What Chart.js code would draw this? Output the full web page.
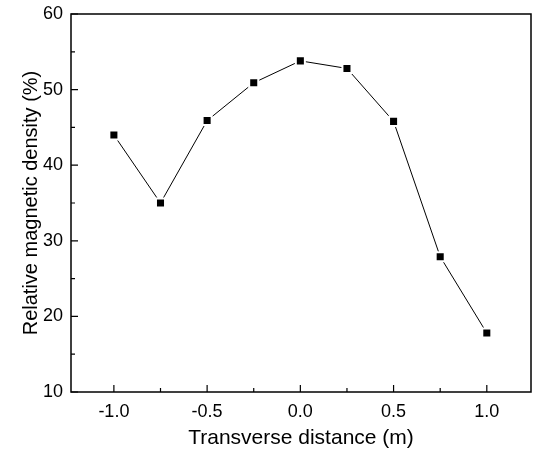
<!DOCTYPE html>
<html>
<head>
<meta charset="utf-8">
<script src="https://cdn.jsdelivr.net/npm/chart.js@4.4.1/dist/chart.umd.min.js"></script>
<style>
  html, body { margin: 0; padding: 0; background: #fff; }
  #wrap { width: 534px; height: 457px; }
</style>
</head>
<body>
<div id="wrap"><canvas id="chart" width="534" height="457"></canvas></div>
<script>
// data
const distance = [-1.0, -0.75, -0.5, -0.25, 0.0, 0.25, 0.5, 0.75, 1.0];
const density = [44, 35, 45.9, 50.9, 53.8, 52.8, 45.8, 27.9, 17.8];

const xTicks = [-1.0, -0.75, -0.5, -0.25, 0.0, 0.25, 0.5, 0.75, 1.0];
const xLabels = ['-1.0', '-0.5', '0.0', '0.5', '1.0'];
const yTicks = [10, 15, 20, 25, 30, 35, 40, 45, 50, 55, 60];
const yLabels = ['10', '20', '30', '40', '50', '60'];

const font = "'Liberation Sans', Arial, sans-serif";

const isMajorX = v => Math.abs(v * 2 - Math.round(v * 2)) < 1e-9;

// frame + inward ticks like the original plot
const frameTicks = {
  id: 'frameTicks',
  afterDraw(chart) {
    const { ctx, chartArea: a, scales } = chart;
    ctx.save();
    ctx.strokeStyle = '#000';
    ctx.lineWidth = 1.5;
    ctx.strokeRect(a.left, a.top, a.right - a.left, a.bottom - a.top);
    ctx.lineWidth = 1.2;
    ctx.beginPath();
    xTicks.forEach(v => {
      const x = scales.x.getPixelForValue(v);
      const len = isMajorX(v) ? 7 : 4;
      ctx.moveTo(x, a.bottom);
      ctx.lineTo(x, a.bottom - len);
    });
    yTicks.forEach(v => {
      const y = scales.y.getPixelForValue(v);
      const len = v % 10 === 0 ? 7 : 4;
      ctx.moveTo(a.left, y);
      ctx.lineTo(a.left + len, y);
    });
    ctx.stroke();
    ctx.restore();
  }
};

new Chart(document.getElementById('chart').getContext('2d'), {
  type: 'line',
  data: {
    datasets: [{
      data: distance.map((d, i) => ({ x: d, y: density[i] })),
      borderColor: '#000',
      borderWidth: 1,
      tension: 0,
      pointStyle: 'rect',
      pointRadius: 6.4,
      pointBackgroundColor: '#000',
      pointBorderColor: '#fff',
      pointBorderWidth: 2
    }]
  },
  options: {
    responsive: false,
    animation: false,
    events: [],
    layout: { autoPadding: false, padding: { top: 14, right: 3, left: 0, bottom: 0 } },
    plugins: { legend: { display: false }, tooltip: { enabled: false } },
    scales: {
      x: {
        type: 'linear',
        min: -1.23,
        max: 1.237,
        afterBuildTicks: s => { s.ticks = xTicks.map(v => ({ value: v })); },
        afterFit: s => { s.height = 65; s.paddingLeft = 0; s.paddingRight = 0; },
        grid: { display: false, drawTicks: false },
        border: { display: false },
        ticks: {
          autoSkip: false,
          maxRotation: 0,
          padding: 9,
          color: '#000',
          font: { family: font, size: 18 },
          callback: v => {
            const t = v.toFixed(1);
            return isMajorX(v) && xLabels.includes(t) ? t : '';
          }
        },
        title: {
          display: true,
          text: 'Transverse distance (m)',
          color: '#000',
          font: { family: font, size: 21 },
          padding: { top: 0, bottom: 6 }
        }
      },
      y: {
        min: 10,
        max: 60,
        afterBuildTicks: s => { s.ticks = yTicks.map(v => ({ value: v })); },
        afterFit: s => { s.width = 71; s.paddingTop = 0; s.paddingBottom = 0; },
        grid: { display: false, drawTicks: false },
        border: { display: false },
        ticks: {
          autoSkip: false,
          padding: 8,
          color: '#000',
          font: { family: font, size: 18 },
          callback: v => yLabels.includes(String(v)) ? String(v) : ''
        },
        title: {
          display: true,
          text: 'Relative magnetic density (%)',
          color: '#000',
          font: { family: font, size: 20 },
          padding: { top: 19, bottom: 0 }
        }
      }
    }
  },
  plugins: [frameTicks]
});
</script>
</body>
</html>
